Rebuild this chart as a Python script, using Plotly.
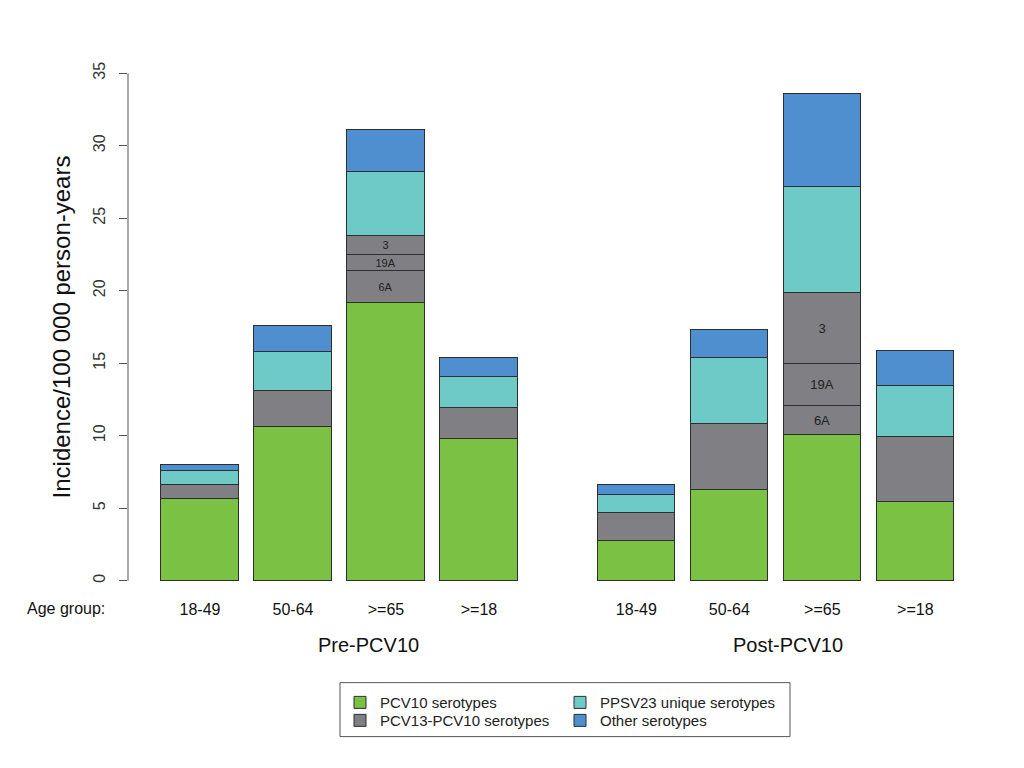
import plotly.graph_objects as go

# ---------------- data ----------------
periods = ["Pre-PCV10", "Post-PCV10"]
age_groups = ["18-49", "50-64", ">=65", ">=18"]

# values for the 8 bars: Pre (4 age groups) then Post (4 age groups)
pcv10 = [5.67, 10.61, 19.15, 9.78, 2.76, 6.29, 10.06, 5.42]
pcv13_pcv10 = [0.92, 2.48, 4.64, 2.14, 1.88, 4.51, 9.76, 4.50]
ppsv23 = [1.01, 2.69, 4.37, 2.14, 1.24, 4.59, 7.35, 3.54]
other = [0.39, 1.79, 2.96, 1.30, 0.69, 1.88, 6.38, 2.41]

# split of PCV13-PCV10 serotypes for the >=65 bars
split_labels = ["6A", "19A", "3"]
split_pre65 = [2.23, 1.08, 1.33]
split_post65 = [2.02, 2.87, 4.87]

series_names = ["PCV10 serotypes", "PCV13-PCV10 serotypes",
                "PPSV23 unique serotypes", "Other serotypes"]
colors = ["#7BC143", "#7F7F84", "#6DCAC6", "#4F8FD0"]
edge = "#2e2e2e"
FONT = "Liberation Sans, Arial, Helvetica, sans-serif"

# ---------------- positions ----------------
step, group_gap = 1.2, 2.03
xs = []
for g in range(len(periods)):
    for i in range(len(age_groups)):
        xs.append(g * (3 * step + group_gap) + i * step)
labels = age_groups * len(periods)
split_idx = [i for i, a in enumerate(labels) if a == ">=65"]
split_vals = [split_pre65, split_post65]
split_font = [11, 13]

# ---------------- geometry (screen px; page body adds an 8px offset) -----
OFF = 8
W, H = 1024 - 2 * OFF, 768 - 2 * OFF
L_s, R_s = 128, 990
ppu_x = 77.5
x0_s = 200  # centre of first bar on screen
xr = [(L_s - x0_s) / ppu_x, (R_s - x0_s) / ppu_x]
y_lo, y_hi = -0.5, 35.5
ppu_y = (581 - 73) / 35.0
top_s = 73 - (y_hi - 35) * ppu_y
bot_s = 581 + (0 - y_lo) * ppu_y


def paper_x(px):
    return (px - L_s) / (R_s - L_s)


def paper_y(py):
    return (bot_s - py) / (bot_s - top_s)


fig = go.Figure()


def add_bar(y, name, color, showlegend, legend="legend", text=None, tsize=12):
    fig.add_trace(go.Bar(
        x=xs, y=y, name=name, width=1.0,
        marker=dict(color=color, line=dict(color=edge, width=1)),
        showlegend=showlegend, legend=legend,
        text=text, textposition="inside", insidetextanchor="middle",
        textangle=0, constraintext="none",
        textfont=dict(family=FONT, size=tsize, color="#222222"),
        hoverinfo="name+y"))


add_bar(pcv10, series_names[0], colors[0], True, "legend")
gray_main = [None if i in split_idx else v for i, v in enumerate(pcv13_pcv10)]
add_bar(gray_main, series_names[1], colors[1], True, "legend2")
for k, lab in enumerate(split_labels):
    vals = [None] * len(xs)
    txt = [""] * len(xs)
    sizes = [12] * len(xs)
    for j, idx in enumerate(split_idx):
        vals[idx] = split_vals[j][k]
        txt[idx] = lab
        sizes[idx] = split_font[j]
    add_bar(vals, series_names[1] + " " + lab, colors[1], False, "legend2",
            txt, sizes)
add_bar(ppsv23, series_names[2], colors[2], True, "legend3")
add_bar(other, series_names[3], colors[3], True, "legend4")

# one legend per entry, placed in a 2x2 grid inside a frame
legend_pos = {"legend": (340, 703), "legend2": (340, 721),
              "legend3": (560, 703), "legend4": (560, 721)}
legend_layout = {}
for key, (lx, ly) in legend_pos.items():
    legend_layout[key] = dict(
        x=paper_x(lx), y=paper_y(ly), xanchor="left", yanchor="middle",
        orientation="v", bgcolor="rgba(0,0,0,0)", borderwidth=0,
        font=dict(family=FONT, size=15, color="#222222"), traceorder="normal")

fig.update_layout(
    width=W, height=H,
    barmode="stack", bargap=0,
    plot_bgcolor="white", paper_bgcolor="white",
    margin=dict(l=L_s - OFF, r=W - (R_s - OFF), t=top_s - OFF,
                b=H - (bot_s - OFF), autoexpand=False),
    font=dict(family=FONT, size=16, color="#222222"),
    xaxis=dict(range=xr, tickvals=xs, ticktext=labels, ticks="",
               showline=False, showgrid=False, zeroline=False,
               tickfont=dict(size=16, color="#111111"),
               ticklabelstandoff=10),
    yaxis=dict(range=[y_lo, y_hi], tickvals=[0, 5, 10, 15, 20, 25, 30, 35],
               ticks="outside", ticklen=8, tickcolor="#555555",
               tickangle=-90, showgrid=False, zeroline=False, showline=False,
               tickfont=dict(size=16, color="#333333"),
               ticklabelstandoff=8,
               title=dict(text="Incidence/100 000 person-years",
                          font=dict(size=24, color="#111111"), standoff=13)),
    **legend_layout,
)

# y axis line from 0 to 35 only (R style)
fig.add_shape(type="line", xref="paper", yref="y", x0=0, x1=0, y0=0, y1=35,
              line=dict(color="#555555", width=1))
# legend frame
fig.add_shape(type="rect", xref="paper", yref="paper",
              x0=paper_x(340), x1=paper_x(790), y0=paper_y(737), y1=paper_y(683),
              line=dict(color="#555555", width=1), fillcolor="rgba(0,0,0,0)")

# "Age group:" label and period labels
fig.add_annotation(text="Age group:", xref="paper", yref="paper",
                   x=paper_x(107), y=paper_y(609), xanchor="right",
                   yanchor="middle", showarrow=False,
                   font=dict(size=16, color="#111111"))
group_label_px = [368, 788]
for p, gpx in zip(periods, group_label_px):
    fig.add_annotation(text=p, xref="paper", yref="paper",
                       x=paper_x(gpx), y=paper_y(645), xanchor="center",
                       yanchor="middle", showarrow=False,
                       font=dict(size=20, color="#111111"))

fig.write_html("out.html")
